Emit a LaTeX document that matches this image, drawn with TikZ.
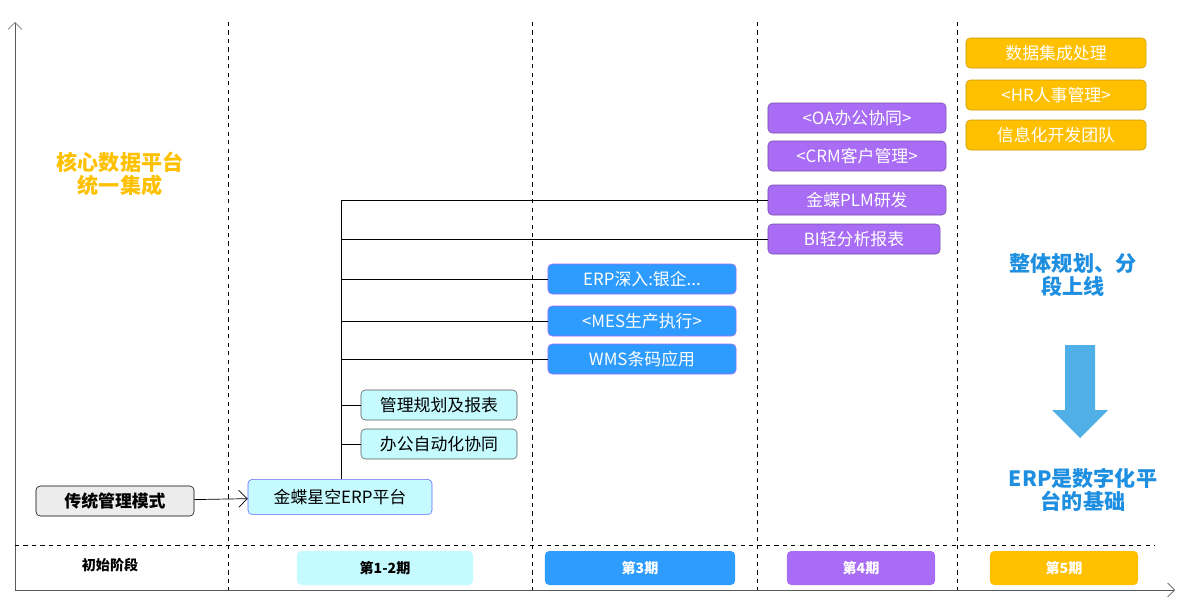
\documentclass[tikz,border=0pt]{standalone}
\usepackage{fontspec}
\setmainfont{Noto Sans CJK SC}
\usetikzlibrary{arrows.meta, positioning}
\definecolor{lcyan}{RGB}{197,250,255}
\definecolor{pblue}{RGB}{46,155,255}
\definecolor{ppurple}{RGB}{168,108,245}
\definecolor{porange}{RGB}{255,192,0}
\definecolor{tblue}{RGB}{30,143,224}
\tikzset{
  box/.style = {draw, rounded corners=3, minimum height=0.75cm, inner sep=1pt, font=\fontsize{12}{14}\selectfont},
  cbox/.style = {box, fill=lcyan, draw=gray!70!black},
  bbox/.style = {box, fill=pblue, draw=ppurple, text=white},
  vbox/.style = {box, fill=ppurple, draw=ppurple!70!black, text=white},
  obox/.style = {box, fill=porange, draw=porange!80!black, text=white},
  phase/.style = {rounded corners=3, minimum height=0.85cm, font=\bfseries\fontsize{10}{12}\selectfont},
  big/.style = {font=\bfseries\fontsize{15}{18}\selectfont},
  link/.style = {black, line width=0.5pt}
}
\begin{document}
\begin{tikzpicture}[x=0.025cm, y=-0.025cm]
\useasboundingbox (0,0) rectangle (1189,608);

    % axes and grid
    \draw[-{Straight Barb[length=5pt]}, gray!70!black] (15,590) -- (15,22);
    \draw[-{Straight Barb[length=5pt]}, gray!70!black] (15,590) -- (1175,590);
    \foreach \x in {228,532,757,957}
        \draw[dashed] (\x,22) -- (\x,590);
    \draw[dashed] (15,545) -- (1155,545);

    % phase labels
    \node[phase] (p0) at (110,565) {初始阶段};
    \node[phase, fill=lcyan, minimum width=4.4cm] (p1) at (385,568) {第1-2期};
    \node[phase, fill=pblue, text=white, minimum width=4.75cm] (p2) at (640,568) {第3期};
    \node[phase, fill=ppurple, text=white, minimum width=3.7cm] (p3) at (861,568) {第4期};
    \node[phase, fill=porange, text=white, minimum width=3.7cm] (p4) at (1064,568) {第5期};

    % nodes
    \node[box, fill=gray!15, font=\bfseries\fontsize{12}{14}\selectfont, minimum width=3.95cm] (old) at (115,501) {传统管理模式};
    \node[box, fill=lcyan, draw=blue!60, minimum width=4.6cm, minimum height=0.88cm] (erp) at (340,497) {金蝶星空ERP平台};
    \node[cbox, minimum width=3.9cm] (mgmt) at (439,405) {管理规划及报表};
    \node[cbox, minimum width=3.9cm] (office) at (439,444) {办公自动化协同};
    \node[bbox, minimum width=4.7cm] (deep) at (642,279) {ERP深入:银企...};
    \node[bbox, minimum width=4.7cm] (mes) at (642,321) {<MES生产执行>};
    \node[bbox, minimum width=4.7cm] (wms) at (642,359) {WMS条码应用};
    \node[vbox, minimum width=4.45cm] (oa) at (857,118) {<OA办公协同>};
    \node[vbox, minimum width=4.45cm] (crm) at (857,156) {<CRM客户管理>};
    \node[vbox, minimum width=4.45cm] (plm) at (857,200) {金蝶PLM研发};
    \node[vbox, minimum width=4.3cm] (bi) at (854,239) {BI轻分析报表};
    \node[obox, minimum width=4.5cm] (data) at (1056,53) {数据集成处理};
    \node[obox, minimum width=4.5cm] (hr) at (1056,95) {<HR人事管理>};
    \node[obox, minimum width=4.5cm] (team) at (1056,135) {信息化开发团队};

    % connectors
    \draw[link, -{Straight Barb[length=6pt]}] (old) -- (erp);
    \coordinate (top) at (341,200);
    \draw[link] (erp.north -| top) -- (top);
    \foreach \n in {mgmt,office,deep,mes,wms,plm,bi}
        \draw[link] (top |- \n.west) -- (\n.west);

    % side texts
    \node[big, text=porange, align=center] (core) at (120,174) {核心数据平台\\[-2pt]统一集成};
    \node[big, text=tblue, align=center] (plan) at (1073,275) {整体规划、分\\[-2pt]段上线};
    \node[big, text=tblue, align=center] (base) at (1083,490) {ERP是数字化平\\[-2pt]台的基础};
    \fill[cyan!80!blue!70] (1065,345) -- (1095,345) -- (1095,410) -- (1108,410)
        -- (1080,438) -- (1052,410) -- (1065,410) -- cycle;
\end{tikzpicture}
\end{document}
